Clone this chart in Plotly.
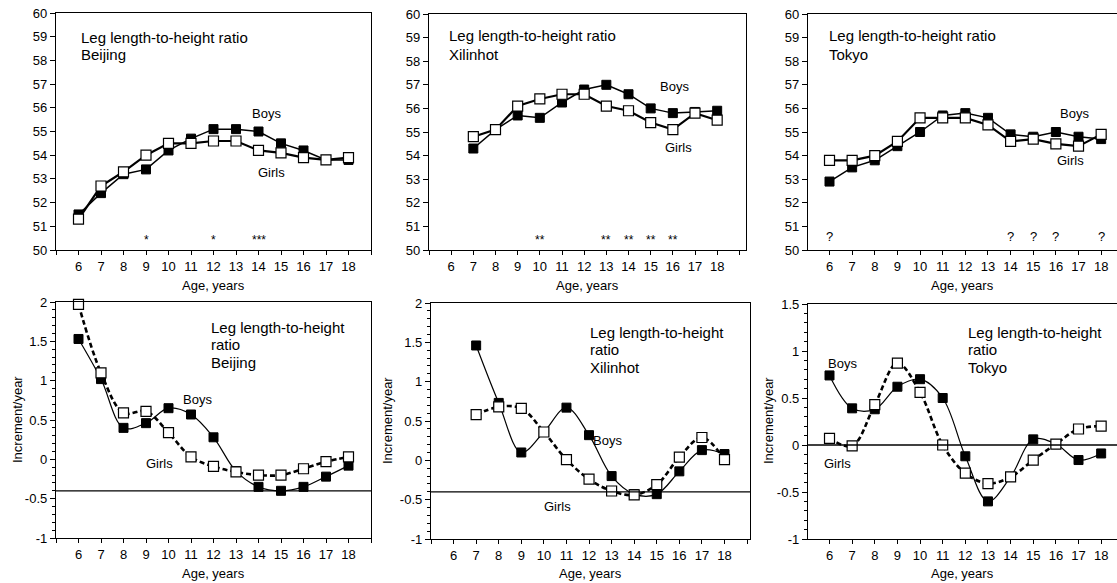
import plotly.graph_objects as go

# ---------------- data ----------------
ages = list(range(6, 19))
ages_xil = list(range(7, 19))

# Leg length-to-height ratio (%)
bj_boys = [51.5, 52.4, 53.2, 53.4, 54.2, 54.7, 55.1, 55.1, 55.0, 54.5, 54.2, 53.8, 53.8]
bj_girls = [51.3, 52.7, 53.3, 54.0, 54.5, 54.5, 54.6, 54.6, 54.2, 54.1, 53.9, 53.8, 53.9]
xl_boys = [54.3, 55.1, 55.7, 55.6, 56.25, 56.8, 57.0, 56.6, 56.0, 55.8, 55.85, 55.9]
xl_girls = [54.8, 55.1, 56.1, 56.4, 56.6, 56.6, 56.1, 55.9, 55.4, 55.1, 55.8, 55.5]
tk_boys = [52.9, 53.5, 53.8, 54.4, 55.0, 55.7, 55.8, 55.6, 54.9, 54.8, 55.0, 54.8, 54.7]
tk_girls = [53.8, 53.8, 54.0, 54.6, 55.6, 55.6, 55.6, 55.3, 54.6, 54.7, 54.5, 54.4, 54.9]

# Increment per year
bj_inc_boys = [1.53, 1.02, 0.40, 0.46, 0.65, 0.57, 0.28, -0.15, -0.35, -0.40, -0.35, -0.22, -0.08]
bj_inc_girls = [1.97, 1.10, 0.59, 0.61, 0.34, 0.03, -0.09, -0.16, -0.20, -0.20, -0.12, -0.03, 0.03]
xl_inc_boys = [1.46, 0.73, 0.10, 0.36, 0.67, 0.32, -0.20, -0.43, -0.43, -0.14, 0.13, 0.08]
xl_inc_girls = [0.58, 0.68, 0.66, 0.36, 0.01, -0.24, -0.39, -0.44, -0.31, 0.04, 0.29, 0.01]
tk_inc_boys = [0.74, 0.39, 0.38, 0.62, 0.70, 0.50, -0.12, -0.60, -0.34, 0.06, 0.01, -0.16, -0.09]
tk_inc_girls = [0.07, -0.01, 0.43, 0.87, 0.56, 0.00, -0.30, -0.41, -0.34, -0.16, 0.01, 0.17, 0.20]

# significance marks (age, mark)
bj_sig_ages = [9, 12, 14]
bj_sig_marks = ["*", "*", "***"]
xl_sig_ages = [10, 13, 14, 15, 16]
xl_sig_marks = ["**", "**", "**", "**", "**"]
tk_sig_ages = [6, 14, 15, 16, 18]
tk_sig_marks = ["?", "?", "?", "?", "?"]

# reference lines in lower panels
ref_levels = [-0.4, -0.4, 0.0]

x_tick_vals = list(range(5, 20))
x_tick_text = [""] + [str(v) for v in range(6, 19)] + [""]
ratio_tick_vals = list(range(50, 61))
inc_tick_vals_a = [-1, -0.5, 0, 0.5, 1, 1.5, 2]
inc_tick_text_a = ["-1", "-0.5", "0", "0.5", "1", "1.5", "2"]
inc_tick_vals_b = [-1, -0.5, 0, 0.5, 1, 1.5]
inc_tick_text_b = ["-1", "-0.5", "0", "0.5", "1", "1.5"]

# ---------------- layout helpers ----------------
W, H = 1117, 583
FONT = "Liberation Sans, Arial, Helvetica, sans-serif"


def xdom(a, b):
    return [a / W, min(b / W, 1.0)]


def ydom(top, bottom):
    return [1 - bottom / H, 1 - top / H]


def px(x, y):
    return x / W, 1 - y / H


fig = go.Figure()

panels = [
    dict(xd=(56, 371), yd=(13, 250), xr=[5, 19], yr=[50, 60]),
    dict(xd=(429, 746), yd=(14, 250), xr=[5, 19.3], yr=[50, 60]),
    dict(xd=(808, 1117), yd=(14, 250), xr=[5.05, 18.7], yr=[50, 60]),
    dict(xd=(56, 371), yd=(302, 538), xr=[5, 19], yr=[-1, 2]),
    dict(xd=(431, 750), yd=(303, 539), xr=[5, 19.13], yr=[-1, 2]),
    dict(xd=(808, 1117), yd=(304, 539), xr=[5.05, 18.7], yr=[-1, 1.5]),
]

layout_axes = {}
for i, p in enumerate(panels, start=1):
    xa = "xaxis" if i == 1 else f"xaxis{i}"
    ya = "yaxis" if i == 1 else f"yaxis{i}"
    xref = "x" if i == 1 else f"x{i}"
    yref = "y" if i == 1 else f"y{i}"
    layout_axes[xa] = dict(
        domain=xdom(*p["xd"]), range=p["xr"], anchor=yref,
        tickmode="array", tickvals=x_tick_vals, ticktext=x_tick_text,
        ticks="outside", ticklen=4, tickwidth=1, tickcolor="black",
        showline=True, linecolor="black", linewidth=1.3, mirror=True,
        showgrid=False, zeroline=False, automargin=False,
        tickfont=dict(family=FONT, size=13, color="black"),
    )
    ydict = dict(
        domain=ydom(*p["yd"]), range=p["yr"], anchor=xref,
        ticks="outside", ticklen=5, tickwidth=1, tickcolor="black",
        showline=True, linecolor="black", linewidth=1.3, mirror=True,
        showgrid=False, zeroline=False, automargin=False,
        tickfont=dict(family=FONT, size=13, color="black"),
    )
    if i <= 3:
        ydict.update(tickmode="array", tickvals=ratio_tick_vals,
                     ticktext=[str(v) for v in ratio_tick_vals])
    else:
        tv, tt = (inc_tick_vals_b, inc_tick_text_b) if i == 6 else (inc_tick_vals_a, inc_tick_text_a)
        ydict.update(tickmode="array", tickvals=tv, ticktext=tt,
                     minor=dict(tickmode="linear", tick0=-1, dtick=0.1,
                                ticklen=3, ticks="outside",
                                tickcolor="black", tickwidth=1))
    layout_axes[ya] = ydict

boys_marker = dict(symbol="square", size=9, color="black",
                   line=dict(color="black", width=1))
girls_marker = dict(symbol="square", size=10, color="white",
                    line=dict(color="black", width=1.2))


def add_pair(i, x, boys, girls, lower):
    xref = "x" if i == 1 else f"x{i}"
    yref = "y" if i == 1 else f"y{i}"
    if lower:
        bl = dict(color="black", width=1.2, shape="spline")
        gl = dict(color="black", width=2.6, shape="spline", dash="5px,3px")
    else:
        bl = dict(color="black", width=1.5)
        gl = dict(color="black", width=2.2)
    fig.add_trace(go.Scatter(x=x, y=boys, mode="lines+markers", line=bl,
                             marker=boys_marker, xaxis=xref, yaxis=yref,
                             name="Boys", showlegend=False, cliponaxis=False))
    fig.add_trace(go.Scatter(x=x, y=girls, mode="lines+markers", line=gl,
                             marker=girls_marker, xaxis=xref, yaxis=yref,
                             name="Girls", showlegend=False, cliponaxis=False))


add_pair(1, ages, bj_boys, bj_girls, False)
add_pair(2, ages_xil, xl_boys, xl_girls, False)
add_pair(3, ages, tk_boys, tk_girls, False)
add_pair(4, ages, bj_inc_boys, bj_inc_girls, True)
add_pair(5, ages_xil, xl_inc_boys, xl_inc_girls, True)
add_pair(6, ages, tk_inc_boys, tk_inc_girls, True)

shapes = []
for k, lvl in zip([4, 5, 6], ref_levels):
    shapes.append(dict(type="line", xref=f"x{k} domain", yref=f"y{k}",
                       x0=0, x1=1, y0=lvl, y1=lvl,
                       line=dict(color="black", width=1.3)))

annotations = []


def txt(x, y, s, size, anchor="left"):
    xx, yy = px(x, y)
    annotations.append(dict(x=xx, y=yy, xref="paper", yref="paper", text=s,
                            showarrow=False, xanchor=anchor, yanchor="middle",
                            font=dict(family=FONT, size=size, color="black")))


txt(79, 37, "Leg length-to-height ratio", 15)
txt(79, 55, "Beijing", 15)
txt(447, 36, "Leg length-to-height ratio", 15)
txt(447, 54, "Xilinhot", 15)
txt(827, 36, "Leg length-to-height ratio", 15)
txt(827, 54, "Tokyo", 15)
txt(209, 327, "Leg length-to-height", 15)
txt(209, 344, "ratio", 15)
txt(209, 362, "Beijing", 15)
txt(588, 332, "Leg length-to-height", 15)
txt(588, 349, "ratio", 15)
txt(588, 367, "Xilinhot", 15)
txt(966, 332, "Leg length-to-height", 15)
txt(966, 349, "ratio", 15)
txt(966, 367, "Tokyo", 15)

for (x, y, s) in [(266, 114, "Boys"), (271, 172, "Girls"),
                  (674, 86, "Boys"), (678, 147, "Girls"),
                  (1074, 114, "Boys"), (1070, 160, "Girls"),
                  (197, 399, "Boys"), (159, 463, "Girls"),
                  (607, 440, "Boys"), (557, 507, "Girls"),
                  (842, 363, "Boys"), (837, 463, "Girls")]:
    txt(x, y, s, 13, "center")

for cx, cy in [(213.5, 285), (587.5, 285), (962, 285),
               (213.5, 573), (590, 573), (962, 573)]:
    txt(cx, cy, "Age, years", 13, "center")

for cx, cy in [(17, 420), (387, 420), (768, 421)]:
    xx, yy = px(cx, cy)
    annotations.append(dict(x=xx, y=yy, xref="paper", yref="paper",
                            text="Increment/year", showarrow=False,
                            textangle=-90, xanchor="center", yanchor="middle",
                            font=dict(family=FONT, size=13, color="black")))

for k, sa, sm, size, yv in [(1, bj_sig_ages, bj_sig_marks, 12, 50.05),
                            (2, xl_sig_ages, xl_sig_marks, 12, 50.05),
                            (3, tk_sig_ages, tk_sig_marks, 13, 50.15)]:
    xref = "x" if k == 1 else f"x{k}"
    yref = "y" if k == 1 else f"y{k}"
    for a, m in zip(sa, sm):
        annotations.append(dict(x=a, y=yv, xref=xref, yref=yref, text=m,
                                showarrow=False, xanchor="center",
                                yanchor="bottom",
                                font=dict(family=FONT, size=size,
                                          color="black")))

fig.update_layout(
    template="none",
    width=W, height=H,
    margin=dict(l=0, r=0, t=0, b=0, pad=0),
    paper_bgcolor="white", plot_bgcolor="white",
    showlegend=False,
    shapes=shapes, annotations=annotations,
    **layout_axes,
)

fig.write_html(
    "out.html",
    config={"displayModeBar": False},
    post_script="document.body.style.margin='0';document.body.style.overflow='hidden';",
)
